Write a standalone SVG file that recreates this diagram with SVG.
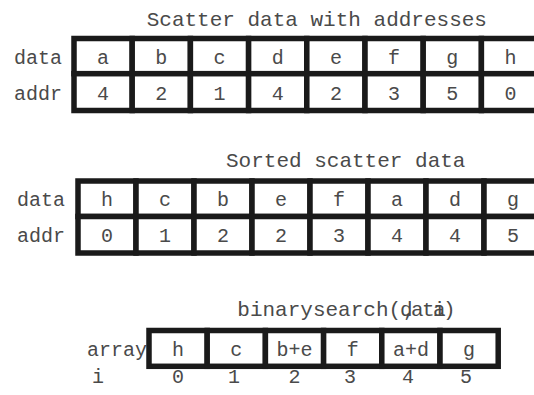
<svg xmlns="http://www.w3.org/2000/svg" width="534" height="395" viewBox="0 0 534 395">
<style>
.cell{fill:#fff;stroke:#1a1a1a;stroke-width:5.5}
.t{font-family:"Liberation Mono","Courier New",monospace;font-size:20px;fill:#4a4a4a;text-anchor:middle}
.lbl{font-family:"Liberation Mono","Courier New",monospace;font-size:20px;fill:#4a4a4a;text-anchor:end}
.title{font-family:"Liberation Mono","Courier New",monospace;font-size:21px;fill:#4a4a4a}
</style>
<rect width="534" height="395" fill="#fff"/>
<text class="title" x="146.7" y="25.5">Scatter data with addresses</text>
<g id="scatter">
<text class="lbl" x="62" y="64">data</text>
<text class="lbl" x="62" y="100">addr</text>
<g id="s0"><rect class="cell" x="74" y="38.5" width="58.2" height="35.2"/><rect class="cell" x="74" y="73.7" width="58.2" height="36.8"/><text class="t" x="103.1" y="64">a</text><text class="t" x="103.1" y="100">4</text></g>
<g id="s1"><rect class="cell" x="132.2" y="38.5" width="58.2" height="35.2"/><rect class="cell" x="132.2" y="73.7" width="58.2" height="36.8"/><text class="t" x="161.3" y="64">b</text><text class="t" x="161.3" y="100">2</text></g>
<g id="s2"><rect class="cell" x="190.4" y="38.5" width="58.2" height="35.2"/><rect class="cell" x="190.4" y="73.7" width="58.2" height="36.8"/><text class="t" x="219.5" y="64">c</text><text class="t" x="219.5" y="100">1</text></g>
<g id="s3"><rect class="cell" x="248.6" y="38.5" width="58.2" height="35.2"/><rect class="cell" x="248.6" y="73.7" width="58.2" height="36.8"/><text class="t" x="277.7" y="64">d</text><text class="t" x="277.7" y="100">4</text></g>
<g id="s4"><rect class="cell" x="306.8" y="38.5" width="58.2" height="35.2"/><rect class="cell" x="306.8" y="73.7" width="58.2" height="36.8"/><text class="t" x="335.9" y="64">e</text><text class="t" x="335.9" y="100">2</text></g>
<g id="s5"><rect class="cell" x="365" y="38.5" width="58.2" height="35.2"/><rect class="cell" x="365" y="73.7" width="58.2" height="36.8"/><text class="t" x="394.1" y="64">f</text><text class="t" x="394.1" y="100">3</text></g>
<g id="s6"><rect class="cell" x="423.2" y="38.5" width="58.2" height="35.2"/><rect class="cell" x="423.2" y="73.7" width="58.2" height="36.8"/><text class="t" x="452.3" y="64">g</text><text class="t" x="452.3" y="100">5</text></g>
<g id="s7"><rect class="cell" x="481.4" y="38.5" width="58.2" height="35.2"/><rect class="cell" x="481.4" y="73.7" width="58.2" height="36.8"/><text class="t" x="510.5" y="64">h</text><text class="t" x="510.5" y="100">0</text></g>
</g>
<text class="title" x="226" y="167">Sorted scatter data</text>
<g id="sorted">
<text class="lbl" x="65" y="206">data</text>
<text class="lbl" x="65" y="242">addr</text>
<g id="o0"><rect class="cell" x="78" y="181" width="58" height="35.5"/><rect class="cell" x="78" y="216.5" width="58" height="36.5"/><text class="t" x="107" y="206">h</text><text class="t" x="107" y="242">0</text></g>
<g id="o1"><rect class="cell" x="136" y="181" width="58" height="35.5"/><rect class="cell" x="136" y="216.5" width="58" height="36.5"/><text class="t" x="165" y="206">c</text><text class="t" x="165" y="242">1</text></g>
<g id="o2"><rect class="cell" x="194" y="181" width="58" height="35.5"/><rect class="cell" x="194" y="216.5" width="58" height="36.5"/><text class="t" x="223" y="206">b</text><text class="t" x="223" y="242">2</text></g>
<g id="o3"><rect class="cell" x="252" y="181" width="58" height="35.5"/><rect class="cell" x="252" y="216.5" width="58" height="36.5"/><text class="t" x="281" y="206">e</text><text class="t" x="281" y="242">2</text></g>
<g id="o4"><rect class="cell" x="310" y="181" width="58" height="35.5"/><rect class="cell" x="310" y="216.5" width="58" height="36.5"/><text class="t" x="339" y="206">f</text><text class="t" x="339" y="242">3</text></g>
<g id="o5"><rect class="cell" x="368" y="181" width="58" height="35.5"/><rect class="cell" x="368" y="216.5" width="58" height="36.5"/><text class="t" x="397" y="206">a</text><text class="t" x="397" y="242">4</text></g>
<g id="o6"><rect class="cell" x="426" y="181" width="58" height="35.5"/><rect class="cell" x="426" y="216.5" width="58" height="36.5"/><text class="t" x="455" y="206">d</text><text class="t" x="455" y="242">4</text></g>
<g id="o7"><rect class="cell" x="484" y="181" width="58" height="35.5"/><rect class="cell" x="484" y="216.5" width="58" height="36.5"/><text class="t" x="513" y="206">g</text><text class="t" x="513" y="242">5</text></g>
</g>
<text class="title" x="237.3 249.9 262.5 275.1 287.7 300.3 312.9 325.5 338.1 350.7 363.3 375.9 388.5 400 411 422 433 403 433 443" y="315.5">binarysearch(data,i)</text>
<g id="array">
<text class="lbl" x="147" y="356">array</text>
<g id="a0"><rect class="cell" x="149" y="330.5" width="58.2" height="35.8"/><text class="t" x="178.1" y="356">h</text></g>
<g id="a1"><rect class="cell" x="207.2" y="330.5" width="58.2" height="35.8"/><text class="t" x="236.3" y="356">c</text></g>
<g id="a2"><rect class="cell" x="265.4" y="330.5" width="58.2" height="35.8"/><text class="t" x="294.5" y="356">b+e</text></g>
<g id="a3"><rect class="cell" x="323.6" y="330.5" width="58.2" height="35.8"/><text class="t" x="352.7" y="356">f</text></g>
<g id="a4"><rect class="cell" x="381.8" y="330.5" width="58.2" height="35.8"/><text class="t" x="410.9" y="356">a+d</text></g>
<g id="a5"><rect class="cell" x="440" y="330.5" width="58.2" height="35.8"/><text class="t" x="469.1" y="356">g</text></g>
</g>
<g id="index">
<text class="t" x="98" y="383">i</text>
<text class="t" x="178.1" y="383">0</text>
<text class="t" x="234" y="383">1</text>
<text class="t" x="294.5" y="383">2</text>
<text class="t" x="350" y="383">3</text>
<text class="t" x="408" y="383">4</text>
<text class="t" x="466" y="383">5</text>
</g>
<g id="connectors"></g>
</svg>
